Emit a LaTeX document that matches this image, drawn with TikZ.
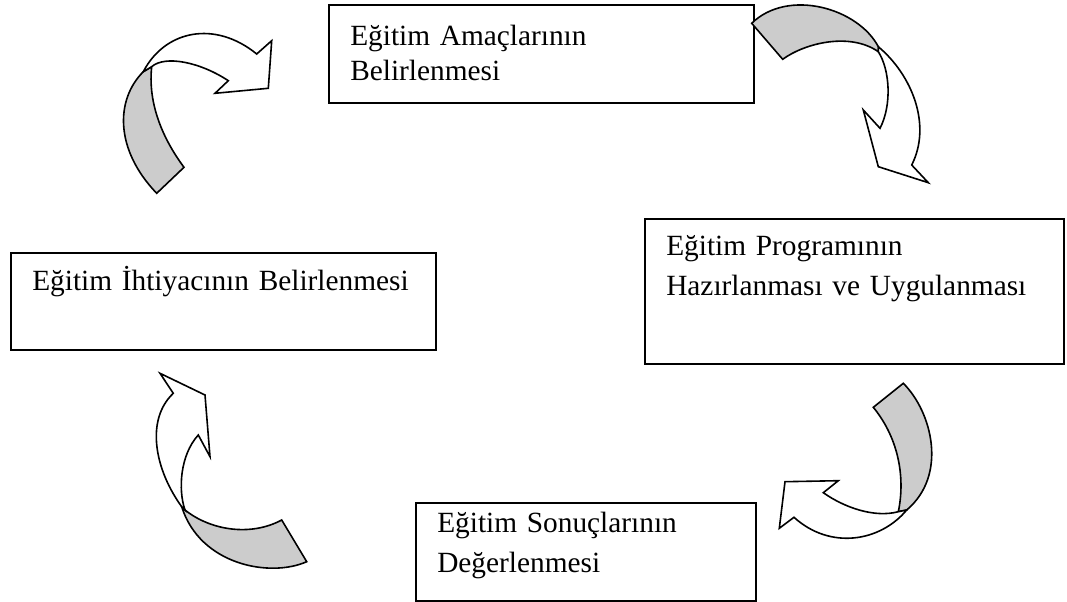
\documentclass[tikz,border=0pt]{standalone}
\usepackage{fontspec}
\setmainfont{Liberation Serif}
\usetikzlibrary{shapes,arrows,positioning}

\begin{document}
\begin{tikzpicture}[x=0.75pt, y=-0.75pt]
    % Styles
    \tikzstyle{kutu} = [rectangle, draw, line width=1.4pt, anchor=north west, align=left, inner ysep=0pt, inner xsep=16pt, font=\fontsize{22}{30}\selectfont]
    \tikzstyle{arkayuz} = [draw, line width=1.2pt, fill=black!20]
    \tikzstyle{onyuz} = [draw, line width=1.2pt, fill=white]

    \useasboundingbox (0,0) rectangle (1067,602);

    % Nodes
    \node [kutu, font=\fontsize{22}{26}\selectfont, text width=286.75pt, text height=30.75pt, text depth=42.5pt] (amac) at (328,4) {Eğitim Amaçlarının\\Belirlenmesi};
    \node [kutu, text width=282.25pt, text height=27.75pt, text depth=80.75pt] (program) at (644,218) {Eğitim Programının\\Hazırlanması ve Uygulanması};
    \node [kutu, text width=286.75pt, text height=28.75pt, text depth=44.25pt] (ihtiyac) at (10,251.7) {Eğitim İhtiyacının Belirlenmesi};
    \node [kutu, text width=223pt, text height=22.75pt, text depth=51pt] (sonuc) at (415,501.7) {Eğitim Sonuçlarının\\Değerlenmesi};

    % Arrows
    % ihtiyac -> amac
    \draw [arkayuz] (156.7,193.3) -- (184,167.3) .. controls (160,135) and (148,100) .. (151.7,66.7) -- (143.3,71.7) .. controls (115,100) and (115,150) .. (156.7,193.3) -- cycle;
    \draw [onyuz] (143.3,71.7) .. controls (165,30) and (215,20) .. (256.7,54) -- (271.7,40.7) -- (268.3,88.3) -- (215,93.3) -- (228.3,80.7) .. controls (200,62) and (165,55) .. (151.7,66.7) -- cycle;
    % amac -> program
    \draw [arkayuz] (751.7,23.3) -- (782.7,59.3) .. controls (805,43) and (850,32) .. (878.3,51.7) -- (878.3,46.7) .. controls (858,8) and (788,-12) .. (751.7,23.3) -- cycle;
    \draw [onyuz] (878.3,46.7) .. controls (912,75) and (932,125) .. (911.7,165) -- (928.3,182.7) -- (878.3,166.7) -- (863.3,110) -- (880,128.3) .. controls (892,105) and (890,70) .. (878.3,51.7) -- cycle;
    % program -> sonuc
    \draw [arkayuz] (873.3,407.3) -- (903.3,383.3) .. controls (932,412) and (948,475) .. (906.7,510) -- (898.3,511.7) .. controls (905,480) and (900,440) .. (873.3,407.3) -- cycle;
    \draw [onyuz] (906.7,510) .. controls (880,542) and (830,550) .. (794,517.3) -- (779.3,528.3) -- (785,481.7) -- (838.3,480.7) -- (823.3,492.7) .. controls (845,508) and (875,518) .. (898.3,511.7) -- cycle;
    % sonuc -> ihtiyac
    \draw [arkayuz] (185,510) .. controls (210,530) and (250,537) .. (281.7,520) -- (306.7,561.7) .. controls (270,578) and (200,565) .. (181.7,506.7) -- cycle;
    \draw [onyuz] (181.7,506.7) .. controls (155,470) and (145,420) .. (173.3,393.3) -- (160,373.3) -- (205,395) -- (210,456.7) -- (198.3,435) .. controls (180,455) and (178,490) .. (185,510) -- cycle;
\end{tikzpicture}
\end{document}
